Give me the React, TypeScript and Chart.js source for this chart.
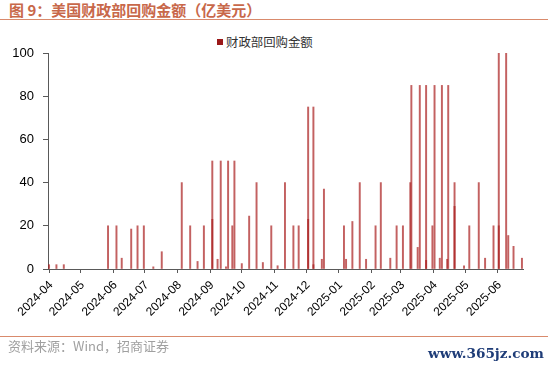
import React, { useEffect, useRef } from "react";
import { Chart, registerables } from "chart.js";

Chart.register(...registerables);

const START_DATE = "2024-04-01";

const monthLabels = [
  "2024-04", "2024-05", "2024-06", "2024-07", "2024-08", "2024-09", "2024-10",
  "2024-11", "2024-12", "2025-01", "2025-02", "2025-03", "2025-04", "2025-05", "2025-06",
];

const buybackDates = [
  "2024-04-01", "2024-04-08", "2024-04-15", "2024-05-27", "2024-06-04", "2024-06-09",
  "2024-06-18", "2024-06-24", "2024-06-30", "2024-07-09", "2024-07-17", "2024-08-05",
  "2024-08-13", "2024-08-20", "2024-08-26", "2024-09-03", "2024-09-03", "2024-09-08",
  "2024-09-11", "2024-09-16", "2024-09-18", "2024-09-22", "2024-09-24", "2024-10-01",
  "2024-10-08", "2024-10-15", "2024-10-21", "2024-10-29", "2024-11-04", "2024-11-11",
  "2024-11-19", "2024-11-24", "2024-12-03", "2024-12-03", "2024-12-08", "2024-12-08",
  "2024-12-16", "2024-12-18", "2025-01-06", "2025-01-08", "2025-01-14", "2025-01-21",
  "2025-01-27", "2025-02-05", "2025-02-10", "2025-02-19", "2025-02-25", "2025-03-03",
  "2025-03-10", "2025-03-11", "2025-03-17", "2025-03-19", "2025-03-25", "2025-03-25",
  "2025-03-31", "2025-04-02", "2025-04-07", "2025-04-09", "2025-04-14", "2025-04-15",
  "2025-04-21", "2025-04-21", "2025-04-30", "2025-05-05", "2025-05-14", "2025-05-20",
  "2025-05-28", "2025-06-02", "2025-06-02", "2025-06-09", "2025-06-11", "2025-06-16",
  "2025-06-24",
];

const buybackValues = [
  2, 2, 2, 20, 20, 5,
  18.5, 20, 20, 1, 8, 40,
  20, 3.5, 20, 23, 50, 4.5,
  50, 1, 50, 20, 50, 2.5,
  24.5, 40, 3, 20, 1.5, 40,
  20, 20, 23, 75, 2, 75,
  4.5, 37, 20, 4.5, 22, 40,
  4.5, 20, 40, 5, 20, 20,
  40, 85, 10, 85, 4, 85,
  20, 85, 5, 85, 4.5, 85,
  29, 40, 1.5, 20, 40, 5,
  20, 20, 100, 100, 15.5, 10.5,
  5,
];

const yTicks = [0, 20, 40, 60, 80, 100];

const DAY = 86400000;
const dayOffset = (d: string) =>
  Math.round((Date.parse(d + "T00:00:00Z") - Date.parse(START_DATE + "T00:00:00Z")) / DAY);

export default function App() {
  const ref = useRef<HTMLCanvasElement | null>(null);

  useEffect(() => {
    if (!ref.current) return;
    const points = buybackDates.map((d, i) => ({ x: dayOffset(d), y: buybackValues[i] }));
    const monthOffsets = monthLabels.map((m) => dayOffset(m + "-01"));
    const axisColor = "#595959";
    const chart = new Chart(ref.current, {
      type: "bar",
      data: {
        datasets: [
          {
            label: "财政部回购金额",
            data: points,
            backgroundColor: "rgba(170,30,30,0.7)",
            borderWidth: 0,
            barThickness: 1.3,
            grouped: false,
          } as any,
        ],
      },
      options: {
        animation: false,
        responsive: false,
        maintainAspectRatio: false,
        layout: { padding: { left: 0, right: 27, top: 53, bottom: 0 } },
        plugins: {
          legend: { display: false },
          title: { display: false },
          tooltip: { enabled: false },
        },
        scales: {
          x: {
            type: "linear",
            offset: false,
            min: -1,
            max: 450,
            afterBuildTicks: (scale: any) => {
              scale.ticks = monthOffsets.map((v) => ({ value: v }));
            },
            afterFit: (scale: any) => {
              scale.height = 101;
            },
            ticks: {
              autoSkip: false,
              maxRotation: 45,
              minRotation: 45,
              padding: 5,
              labelOffset: 2,
              color: "#000",
              font: { family: "'Liberation Sans', Arial, sans-serif", size: 12 },
              callback: (_v: any, i: number) => monthLabels[i],
            },
            grid: {
              display: true,
              offset: false,
              drawOnChartArea: false,
              drawTicks: true,
              tickLength: 4,
              color: axisColor,
            },
            border: { display: true, color: axisColor, width: 1 },
          },
          y: {
            min: 0,
            max: 100,
            afterBuildTicks: (scale: any) => {
              scale.ticks = yTicks.map((v) => ({ value: v }));
            },
            afterFit: (scale: any) => {
              scale.width = 48;
            },
            ticks: {
              padding: 9,
              color: "#000",
              font: { family: "'Liberation Sans', Arial, sans-serif", size: 13 },
            },
            grid: {
              display: true,
              drawOnChartArea: false,
              drawTicks: true,
              tickLength: 5,
              color: axisColor,
            },
            border: { display: true, color: axisColor, width: 1 },
          },
        },
      } as any,
    });
    return () => chart.destroy();
  }, []);

  const cjk = "'Noto Sans CJK SC', 'Liberation Sans', sans-serif";

  return (
    <div
      style={{
        position: "absolute",
        left: 0,
        top: 0,
        width: 550,
        height: 370,
        background: "#fff",
        overflow: "hidden",
      }}
    >
      <div
        style={{
          position: "absolute",
          left: 9,
          top: 0,
          height: 20,
          lineHeight: "20px",
          fontFamily: cjk,
          fontSize: 15,
          fontWeight: 700,
          color: "#c8684a",
          whiteSpace: "nowrap",
        }}
      >
        图 9：美国财政部回购金额（亿美元）
      </div>
      <div
        style={{
          position: "absolute",
          left: 0,
          top: 19,
          width: 548,
          height: 0,
          borderTop: "1.5px solid #d98a6c",
        }}
      />
      <div
        style={{
          position: "absolute",
          left: 217,
          top: 39,
          width: 6,
          height: 6,
          background: "#9b1818",
        }}
      />
      <div
        style={{
          position: "absolute",
          left: 226,
          top: 34,
          lineHeight: "16px",
          fontFamily: cjk,
          fontSize: 12.4,
          color: "#333",
          whiteSpace: "nowrap",
        }}
      >
        财政部回购金额
      </div>
      <canvas
        ref={ref}
        width={550}
        height={370}
        style={{ position: "absolute", left: 0, top: 0, width: 550, height: 370 }}
      />
      <div
        style={{
          position: "absolute",
          left: 0,
          top: 336,
          width: 548,
          height: 0,
          borderTop: "1.5px solid #d98a6c",
        }}
      />
      <div
        style={{
          position: "absolute",
          left: 8,
          top: 338,
          lineHeight: "16px",
          fontFamily: cjk,
          fontSize: 13,
          color: "#a0a0a0",
          whiteSpace: "nowrap",
        }}
      >
        资料来源：Wind，招商证券
      </div>
      <div
        style={{
          position: "absolute",
          left: 428,
          top: 343,
          lineHeight: "20px",
          fontFamily: "'DejaVu Serif', serif",
          fontSize: 13.6,
          fontWeight: 700,
          color: "#1f3d78",
          whiteSpace: "nowrap",
        }}
      >
        www.365jz.com
      </div>
    </div>
  );
}
